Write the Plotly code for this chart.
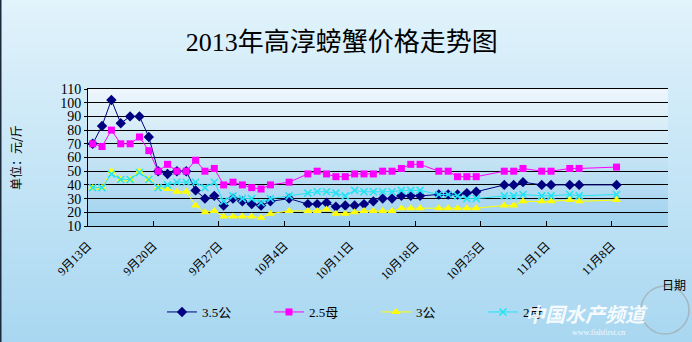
import pandas as pd
import plotly.graph_objects as go

# Trading days with quotes (gaps are days without a report)
dates = (
    [f"2013-09-{d:02d}" for d in range(13, 31)]
    + ["2013-10-01", "2013-10-02", "2013-10-04"]
    + [f"2013-10-{d:02d}" for d in range(6, 19)]
    + [f"2013-10-{d:02d}" for d in range(20, 25)]
    + ["2013-10-27", "2013-10-28", "2013-10-29", "2013-10-31",
       "2013-11-01", "2013-11-03", "2013-11-04", "2013-11-08"]
)

# Prices in 元/斤
price_35_male = [70, 83, 102, 85, 90, 90, 75, 50, 48, 50, 50, 36, 30, 32, 25, 30, 28, 26, 25, 28,
                 30, 26, 26, 27, 24, 25, 25, 26, 28, 30, 30, 32, 32, 32, 33, 33, 33, 34, 35,
                 40, 40, 42, 40, 40, 40, 40, 40]
price_25_female = [70, 68, 80, 70, 70, 75, 65, 50, 55, 50, 50, 58, 50, 52, 40, 42, 40, 38, 37, 40,
                   42, 48, 50, 48, 46, 46, 48, 48, 48, 50, 50, 52, 55, 55, 50, 50, 46, 46, 46,
                   50, 50, 52, 50, 50, 52, 52, 53]
price_3_male = [38, 38, 50, 44, 44, 50, 44, 38, 37, 35, 35, 25, 20, 21, 17, 17, 17, 17, 16, 19,
                21, 21, 21, 22, 19, 19, 20, 21, 21, 21, 21, 23, 23, 23, 23, 23, 23, 23, 23,
                25, 25, 28, 28, 28, 29, 28, 29]
price_2_female = [38, 38, 48, 44, 44, 49, 44, 38, 40, 42, 42, 42, 38, 42, 28, 32, 30, 30, 27, 30,
                  32, 34, 35, 35, 34, 32, 36, 35, 35, 35, 35, 36, 36, 36, 33, 33, 32, 30, 30,
                  32, 32, 33, 32, 32, 33, 32, 33]

series_names = ["3.5公", "2.5母", "3公", "2母"]
tick_dates = pd.date_range("2013-09-13", periods=9, freq="7D")
tick_labels = ["9月13日", "9月20日", "9月27日", "10月4日", "10月11日",
               "10月18日", "10月25日", "11月1日", "11月8日"]

# Points sit in the middle of each day slot
x = pd.to_datetime(dates) + pd.Timedelta(hours=12)

W, H = 692, 342
ML, MR, MT, MB = 88, 24, 89, 116
PW, PH = W - ML - MR, H - MT - MB

serif_cjk = "Liberation Serif, Noto Sans CJK SC"

fig = go.Figure()
styles = [
    dict(color="#000080", symbol="diamond", size=8, mline=dict(width=0)),
    dict(color="#FF00FF", symbol="square", size=7, mline=dict(width=0)),
    dict(color="#FFFF00", symbol="triangle-up", size=8, mline=dict(width=0)),
    dict(color="#22E4F4", symbol="x-thin", size=7, mline=dict(width=1.5, color="#22E4F4")),
]
for name, vals, st in zip(series_names,
                          [price_35_male, price_25_female, price_3_male, price_2_female],
                          styles):
    fig.add_trace(go.Scatter(
        x=x, y=vals, name=name, mode="lines+markers",
        line=dict(color=st["color"], width=1),
        marker=dict(color=st["color"], symbol=st["symbol"], size=st["size"], line=st["mline"]),
    ))


def mix(c1, c2, t):
    a = [int(c1[i:i + 2], 16) for i in (1, 3, 5)]
    b = [int(c2[i:i + 2], 16) for i in (1, 3, 5)]
    return "#" + "".join(f"{round(a[k] + (b[k] - a[k]) * t):02X}" for k in range(3))


def py_to_paper(py):
    return (H - MB - py) / PH


def px_to_paper(px):
    return (px - ML) / PW


shapes = []
# Outer vertical gradient
n = 57
for i in range(n):
    y0p, y1p = H * i / n, H * (i + 1) / n + 0.6
    shapes.append(dict(type="rect", xref="paper", yref="paper", layer="below",
                       x0=px_to_paper(0), x1=px_to_paper(W),
                       y0=py_to_paper(y1p), y1=py_to_paper(y0p),
                       fillcolor=mix("#E2F3FB", "#A8D7F1", (i + 0.5) / n),
                       line=dict(width=0)))
# Plot-area vertical gradient
m = 34
for i in range(m):
    shapes.append(dict(type="rect", xref="paper", yref="paper", layer="below",
                       x0=0, x1=1, y0=1 - (i + 1) / m - 0.004, y1=1 - i / m,
                       fillcolor=mix("#EDF7FC", "#9FD1EE", (i + 0.5) / m),
                       line=dict(width=0)))
# Frame edge on the left
shapes.append(dict(type="line", xref="paper", yref="paper", layer="above",
                   x0=px_to_paper(0.5), x1=px_to_paper(0.5), y0=py_to_paper(0), y1=py_to_paper(H),
                   line=dict(color="#1A2A3A", width=2)))
# Globe outline of the watermark
shapes.append(dict(type="circle", xref="paper", yref="paper", layer="above",
                   x0=px_to_paper(641), x1=px_to_paper(689),
                   y0=py_to_paper(334), y1=py_to_paper(286),
                   line=dict(color="rgba(160,160,160,0.6)", width=1.5)))

annotations = [
    dict(text="单位：元/斤", textangle=-90, x=px_to_paper(15), y=py_to_paper(158),
         xref="paper", yref="paper", xanchor="center", yanchor="middle", showarrow=False,
         font=dict(family="Noto Sans CJK SC", size=12, color="#000")),
    dict(text="日期", x=px_to_paper(674), y=py_to_paper(284), xref="paper", yref="paper",
         xanchor="center", yanchor="middle",
         showarrow=False, font=dict(family="Noto Sans CJK SC", size=12, color="#000")),
    dict(text="<b><i>中国水产频道</i></b>", x=px_to_paper(586), y=py_to_paper(313),
         xref="paper", yref="paper", xanchor="center", yanchor="middle", showarrow=False,
         font=dict(family="Noto Sans CJK SC", size=20, color="rgba(255,255,255,0.9)")),
    dict(text="www.fishfirst.cn", x=px_to_paper(598), y=py_to_paper(332),
         xref="paper", yref="paper", xanchor="center", yanchor="middle", showarrow=False,
         font=dict(family="Liberation Serif", size=8, color="rgba(255,255,255,0.9)")),
]

fig.update_layout(
    width=W, height=H,
    margin=dict(l=ML, r=MR, t=MT, b=MB, pad=0),
    paper_bgcolor="#C8E8F7",
    plot_bgcolor="rgba(0,0,0,0)",
    title=dict(text="2013年高淳螃蟹价格走势图", x=0.494, xanchor="center",
               y=1 - 42 / H, yanchor="middle", xref="container", yref="container",
               font=dict(family=serif_cjk, size=26, color="#000")),
    showlegend=True,
    legend=dict(orientation="h", x=px_to_paper(162), y=py_to_paper(312),
                xanchor="left", yanchor="middle", bgcolor="rgba(0,0,0,0)",
                entrywidth=62, entrywidthmode="pixels",
                font=dict(family=serif_cjk, size=13, color="#000")),
    shapes=shapes,
    annotations=annotations,
    xaxis=dict(type="date", range=["2013-09-13", "2013-11-14"],
               tickvals=tick_dates, ticktext=tick_labels, tickangle=-45,
               ticks="inside", ticklen=5, tickcolor="#000", ticklabelstandoff=7,
               showline=True, linecolor="#000", linewidth=1, mirror=True,
               showgrid=False, zeroline=False,
               tickfont=dict(family=serif_cjk, size=12, color="#000")),
    yaxis=dict(range=[10, 110], dtick=10, tick0=10,
               ticks="outside", ticklen=3, tickcolor="#000",
               showline=True, linecolor="#000", linewidth=1,
               showgrid=True, gridcolor="#000", gridwidth=1, zeroline=False,
               tickfont=dict(family="Liberation Serif", size=14, color="#000")),
)

fig.write_html("out.html")
